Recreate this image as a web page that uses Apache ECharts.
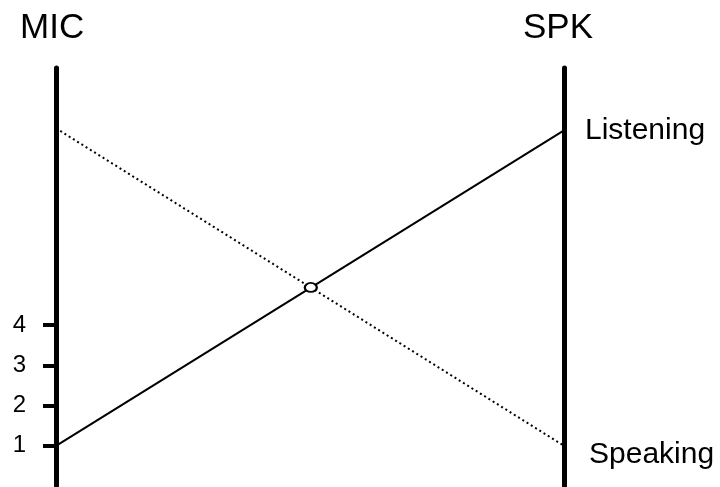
<!DOCTYPE html>
<html>
<head>
<meta charset="utf-8">
<script src="https://cdn.jsdelivr.net/npm/echarts@6/dist/echarts.min.js"></script>
<style>
html,body{margin:0;padding:0;background:#fff;}
#c{width:720px;height:487px;}
</style>
</head>
<body>
<div id="c"></div>
<script>
// Data
var xPositions = [0, 1];            // MIC side, SPK side
var solidValues = [1, 8.85];        // solid line (ends at "Listening")
var dottedValues = [8.9, 1.0];      // dotted line (ends at "Speaking")
var crossPoint = [0.5016, 4.94];    // small circle at the crossing
var yTickValues = [1, 2, 3, 4];
var axisTitles = ['MIC', 'SPK'];
var endLabels = ['Listening', 'Speaking'];

var FONT = 'Liberation Sans, Arial, sans-serif';

function pairs(xs, ys) {
  return xs.map(function (x, i) { return [x, ys[i]]; });
}

var chart = echarts.init(document.getElementById('c'), null, { renderer: 'canvas' });

var H = 487;
var gridTop = 68, gridBottom = 1;
var yMin = 0, yMax = 10.4;
var plotH = H - gridTop - gridBottom;
function yPix(v) { return H - gridBottom - (v - yMin) / (yMax - yMin) * plotH; }
var tMin = yTickValues[0], tMax = yTickValues[yTickValues.length - 1];

var option = {
  backgroundColor: '#ffffff',
  animation: false,
  grid: [
    { left: 56, right: 156, top: gridTop, bottom: gridBottom },
    { left: 56, right: 156, top: yPix(tMax), bottom: H - yPix(tMin) }
  ],
  xAxis: [
    { type: 'value', min: 0, max: 1, show: false, gridIndex: 0 },
    { type: 'value', min: 0, max: 1, show: false, gridIndex: 1 }
  ],
  yAxis: [
    {
      type: 'value', min: yMin, max: yMax, position: 'left', gridIndex: 0,
      splitLine: { show: false },
      axisLine: { show: true, lineStyle: { color: '#000', width: 5 } },
      axisTick: { show: false },
      axisLabel: { show: false }
    },
    {
      type: 'value', min: yMin, max: yMax, position: 'right', gridIndex: 0,
      splitLine: { show: false },
      axisLine: { show: true, onZero: false, lineStyle: { color: '#000', width: 5 } },
      axisTick: { show: false },
      axisLabel: { show: false }
    },
    {
      type: 'value', min: tMin, max: tMax, interval: 1, position: 'left', gridIndex: 1,
      splitLine: { show: false },
      axisLine: { show: false },
      axisTick: { show: true, length: 13, lineStyle: { color: '#000', width: 4 } },
      axisLabel: { show: true, margin: 30,
                   color: '#000', fontSize: 24, fontFamily: 'Liberation Sans' }
    }
  ],
  graphic: [
    { type: 'text', left: 20, top: 11,
      style: { text: axisTitles[0], fill: '#000', font: '35px ' + FONT } },
    { type: 'text', left: 523, top: 11,
      style: { text: axisTitles[1], fill: '#000', font: '35px ' + FONT } }
  ],
  series: [
    {
      type: 'line', data: pairs(xPositions, solidValues), symbol: 'none',
      lineStyle: { color: '#000', width: 2 },
      endLabel: { show: true, formatter: endLabels[0], distance: 21,
                  color: '#000', fontSize: 30, fontFamily: FONT }
    },
    {
      type: 'line', data: pairs(xPositions, dottedValues), symbol: 'none',
      lineStyle: { color: '#000', width: 2, type: [2, 3] },
      endLabel: { show: true, formatter: endLabels[1], distance: 25, offset: [0, 9],
                  color: '#000', fontSize: 30, fontFamily: FONT }
    },
    {
      type: 'scatter', data: [crossPoint], symbol: 'circle', symbolSize: [12, 9],
      itemStyle: { color: '#ffffff', borderColor: '#000000', borderWidth: 2, opacity: 1 },
      z: 10
    }
  ]
};
chart.setOption(option);
</script>
</body>
</html>
